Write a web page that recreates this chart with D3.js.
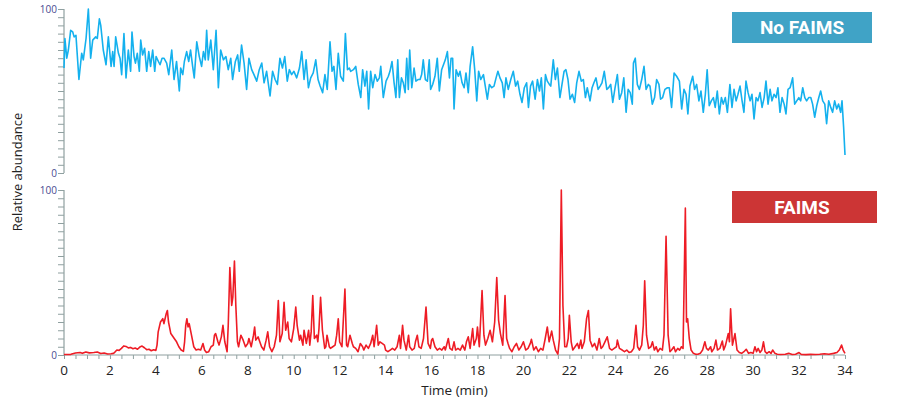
<!DOCTYPE html>
<html>
<head>
<meta charset="utf-8">
<script src="https://cdn.jsdelivr.net/npm/d3@7"></script>
<style>
  html, body { margin: 0; padding: 0; background: #fff; }
  svg { display: block; }
</style>
</head>
<body>
<svg id="chart" width="899" height="407"></svg>
<script>
// ---------- DATA ----------
const xTicks = [0, 2, 4, 6, 8, 10, 12, 14, 16, 18, 20, 22, 24, 26, 28, 30, 32, 34];
const yTickLabels = [0, 100];
const seriesNames = ["No FAIMS", "FAIMS"];

// No FAIMS trace: [time (min), relative abundance]
const noFaimsTime = [0.00,0.04,0.12,0.19,0.29,0.38,0.44,0.52,0.65,0.77,0.84,0.96,1.06,1.16,1.25,1.38,1.45,1.54,1.60,1.71,1.83,1.93,2.05,2.12,2.18,2.25,2.37,2.44,2.51,2.61,2.70,2.80,2.90,2.96,3.05,3.11,3.19,3.28,3.34,3.42,3.51,3.60,3.69,3.77,3.86,3.95,4.01,4.11,4.18,4.27,4.35,4.47,4.56,4.69,4.79,4.90,5.02,5.08,5.17,5.24,5.34,5.43,5.51,5.60,5.67,5.78,5.89,5.99,6.07,6.15,6.21,6.28,6.39,6.50,6.62,6.72,6.82,6.94,7.05,7.15,7.26,7.34,7.46,7.56,7.63,7.73,7.84,7.95,8.05,8.17,8.27,8.39,8.50,8.61,8.71,8.82,8.97,9.08,9.19,9.29,9.40,9.51,9.61,9.72,9.81,9.91,10.01,10.13,10.25,10.35,10.45,10.54,10.64,10.74,10.85,10.96,11.06,11.15,11.26,11.36,11.46,11.58,11.67,11.75,11.84,11.94,12.04,12.16,12.25,12.34,12.42,
12.48,12.60,12.70,12.81,12.92,13.00,13.10,13.18,13.26,13.35,13.44,13.54,13.64,13.73,13.79,13.90,14.02,14.12,14.19,14.28,14.37,14.45,14.53,14.60,14.69,14.77,14.85,14.92,14.99,15.05,15.14,15.24,15.32,15.41,15.50,15.57,15.64,15.73,15.82,15.90,15.96,16.05,16.15,16.25,16.34,16.44,16.52,16.60,16.69,16.78,16.85,16.92,16.98,17.07,17.17,17.24,17.33,17.42,17.50,17.60,17.68,17.79,17.88,17.97,18.05,18.14,18.26,18.34,18.43,18.52,18.62,18.72,18.81,18.89,18.98,19.08,19.16,19.24,19.34,19.45,19.56,19.66,19.75,19.85,19.94,20.04,20.14,20.22,20.31,20.40,20.51,20.61,20.70,20.78,20.87,20.96,21.04,21.13,21.19,21.30,21.39,21.48,21.59,21.68,21.77,21.85,21.94,22.03,22.13,22.23,22.32,22.42,22.52,22.61,22.70,22.78,22.90,22.99,23.07,23.16,23.25,23.34,23.42,23.52,23.63,23.71,23.80,23.89,23.99,24.09,24.18,24.28,24.37,24.47,24.56,24.65,24.74,24.79,24.87,24.96,25.05,
25.15,25.25,25.34,25.44,25.51,25.61,25.71,25.80,25.90,25.97,26.06,26.16,26.27,26.35,26.45,26.56,26.67,26.79,26.89,26.99,27.08,27.16,27.25,27.37,27.45,27.54,27.64,27.73,27.83,27.92,28.00,28.09,28.18,28.27,28.35,28.44,28.53,28.62,28.70,28.79,28.88,28.99,29.08,29.17,29.26,29.34,29.43,29.52,29.60,29.69,29.78,29.87,29.95,30.04,30.13,30.21,30.30,30.39,30.48,30.56,30.65,30.74,30.82,30.91,31.00,31.08,31.17,31.26,31.35,31.43,31.52,31.61,31.72,31.81,31.90,31.99,32.07,32.16,32.25,32.33,32.42,32.51,32.59,32.68,32.77,32.86,32.94,33.03,33.12,33.20,33.29,33.38,33.46,33.55,33.64,33.72,33.81,33.87,33.94,34.00];
const noFaimsValue = [64,82,70,75,87,86,83,84,57,73,69,82,100,70,81,83,82,94,90,75,66,83,65,74,65,83,73,70,60,85,58,75,62,86,71,67,73,62,81,72,76,62,74,65,75,62,71,68,66,70,70,67,60,75,57,68,50,64,60,68,74,68,75,65,58,80,71,65,74,69,87,69,81,63,87,52,75,69,71,63,70,57,68,72,62,78,67,51,70,63,60,56,63,67,55,62,47,62,57,54,70,64,71,56,63,60,62,58,64,74,57,69,52,58,61,69,57,53,49,60,51,80,62,65,51,73,59,56,85,63,64,
62,63,65,54,46,63,53,62,39,62,52,60,56,58,65,46,56,59,62,68,55,46,69,46,58,55,49,70,51,75,52,64,56,57,57,60,69,57,56,69,51,54,59,70,50,63,66,69,74,58,70,70,39,63,59,62,55,52,61,49,65,77,63,44,62,57,60,53,45,54,52,53,58,62,58,55,46,58,51,57,62,53,56,48,43,52,55,40,53,56,45,57,50,58,39,60,56,54,53,69,57,64,46,54,62,63,57,45,48,43,55,62,56,57,46,52,44,52,55,58,51,53,55,62,51,52,54,43,52,60,45,49,58,37,51,49,42,67,70,54,51,
57,65,51,54,53,42,46,57,54,45,46,51,52,52,40,61,59,56,39,51,48,36,53,59,51,54,44,50,37,48,63,41,44,46,40,50,36,46,42,46,37,54,40,51,44,48,53,44,37,56,49,44,48,33,46,44,49,40,46,56,42,51,44,48,46,52,37,46,42,36,51,52,58,42,44,46,44,52,46,44,46,46,42,34,41,46,50,44,42,30,44,40,37,44,39,42,37,44,28,11];

// FAIMS trace: [time (min), relative abundance]
const faimsTime = [0,0.3,0.5,0.7,0.8,0.95,1.1,1.3,1.45,1.6,1.75,1.9,2.05,2.15,2.2,2.3,2.4,2.5,2.6,2.7,2.8,2.9,3.0,3.1,3.2,3.3,3.4,3.5,3.6,3.7,3.8,3.9,4.0,4.05,4.1,4.2,4.3,4.35,4.45,4.5,4.55,4.65,4.8,4.9,5.0,5.1,5.2,5.25,5.3,5.35,5.4,5.45,5.55,5.65,5.75,5.85,5.95,6.05,6.12,6.2,6.3,6.4,6.5,6.55,6.6,6.7,6.75,6.85,6.92,7.0,7.1,7.15,7.22,7.3,7.35,7.42,7.48,7.55,7.6,7.7,7.8,7.9,8.0,8.05,8.15,8.25,8.3,8.35,8.45,8.5,8.6,8.7,8.8,8.87,8.95,9.05,9.15,9.25,9.33,9.4,9.5,9.58,9.65,9.74,9.8,9.9,10.0,10.09,10.15,10.25,10.3,10.4,10.45,10.55,10.65,10.7,10.76,10.83,10.9,11.0,11.05,11.1,11.17,11.25,11.35,11.4,11.45,11.55,11.6,11.7,11.8,11.87,11.94,12.0,12.1,12.23,12.3,12.35,12.45,12.55,12.6,12.7,12.8,12.9,13.0,13.05,13.15,13.25,13.35,13.44,13.5,13.61,13.68,13.75,13.85,13.95,14.0,14.1,14.2,14.3,14.4,14.5,14.6,14.65,14.74,14.8,14.9,15.0,15.05,15.15,15.25,15.3,15.38,15.45,15.55,15.65,15.76,15.85,15.95,16.0,16.05,16.15,16.25,16.35,16.45,16.55,16.6,16.73,16.8,16.9,16.98,17.05,17.15,17.25,17.35,17.45,17.52,17.6,17.68,17.79,17.85,17.95,18.0,18.08,18.2,18.28,18.35,18.45,18.55,18.65,18.75,18.84,18.92,19.0,19.1,19.2,19.27,19.33,19.4,19.5,19.6,19.7,19.8,19.9,20.0,20.1,20.2,20.3,20.35,20.45,20.55,20.65,20.75,20.85,20.95,21.04,21.12,21.23,21.3,21.4,21.5,21.57,21.65,21.72,21.8,21.88,21.95,22.0,22.08,22.15,22.25,22.35,22.42,22.5,22.55,22.65,22.75,22.83,22.9,23.0,23.1,23.2,23.3,23.38,23.45,23.55,23.65,23.75,23.85,23.95,24.05,24.09,24.18,24.3,24.4,24.5,24.6,24.7,24.8,24.9,24.97,25.05,25.15,25.22,25.28,25.36,25.45,25.55,25.62,25.7,25.78,25.85,25.95,26.05,26.12,26.21,26.3,26.38,26.45,26.55,26.62,26.72,26.8,26.88,26.95,27.05,27.1,27.15,27.22,27.3,27.4,27.5,27.6,27.7,27.8,27.9,27.97,28.05,28.15,28.2,28.3,28.38,28.45,28.55,28.66,28.72,28.8,28.92,28.97,29.02,29.1,29.21,29.3,29.4,29.5,29.6,29.7,29.8,29.9,30.0,30.08,30.15,30.22,30.3,30.38,30.45,30.52,30.6,30.7,30.78,30.85,30.95,31.05,31.2,31.4,31.55,31.7,31.85,32.0,32.1,32.3,32.5,32.7,32.9,33.1,33.3,33.5,33.65,33.75,33.85,33.92,34.0];
const faimsValue = [0.3,0.4,1.2,1.5,1.0,1.8,1.3,1.5,1.8,0.9,1.2,0.6,0.8,1.0,1.5,3,2.8,4,5.5,5.2,4.3,4.6,3.8,4.2,3.5,4.8,5.4,4.4,3.2,3.5,2.6,3.2,2.8,6,14,20,22,19,25,27,20,13,10,8,5,3,2.2,8,18,22,17,19,12,5,3,3.5,3,7,3,1.5,2,5,6,12,13,8,6,11,18,8,2,18,53,30,35,57,30,8,5,12,9,5,7,10,5,12,17,9,11,9,5,3,9,14,5,2,5,12,33,8,13,32,15,20,10,8,16,29,18,9,12,6,15,7,15,6,14,36,10,12,8,16,35,15,4,5,12,5,4,5,6,12,22,8,5,40,6,5,12,7,5,4,2,7,5,3,6,4,7,12,5,18,6,8,7,6,3,2,3,4,3,5,12,4,18,9,3,12,5,3,4,8,12,5,4,10,29,7,4,9,10,5,3,4,3,5,3,10,4,3,8,3,4,3,6,3,8,11,4,16,6,10,17,5,39,12,6,10,15,8,20,47,21,13,6,36,10,7,4,2,5,7,3,5,8,3,4,7,9.5,3,5,2,4,3,10,17,8,14.5,9,3,0.5,10,100,30,5,5,10,24,8,3,5,7,4,9,4,8,22,27,9,5,7,3,10,4,5,8,11,4,3,4,5,9,4,3,2,3,1.5,2,4,18,5,3,6,18,45,12,4,5,8,3,5,2,4,3,12,72,12,2,3,5,2,4,3,5,4,89,20,22,10,3,1,0.5,0.5,1,3,8,4,3,5,2,4,9,3,4,8.5,3,6,13,8,28,6,13,3,1.5,1,2,3.5,1,1.5,1,5,2,4,1.5,3,8,2,1,2,1,3,1,0.5,0.3,0.5,1,0.3,0.5,1.5,0.3,0.2,0.4,0.3,0.5,0.8,0.5,1,1.5,3,6,3,1];

// ---------- LAYOUT ----------
const svg = d3.select("#chart");
const xLeft = 64, xRight = 845;
const panels = [
  { name: seriesNames[0], top: 9, bottom: 173, time: noFaimsTime, value: noFaimsValue,
    color: "#14b1ee", boxColor: "#40a3c6", boxX: 732, boxY: 12, boxW: 140, boxH: 31, xAxis: false },
  { name: seriesNames[1], top: 190, bottom: 355, time: faimsTime, value: faimsValue,
    color: "#ee1c25", boxColor: "#cc3535", boxX: 732, boxY: 191, boxW: 145, boxH: 32, xAxis: true }
];

const x = d3.scaleLinear().domain([0, 34]).range([xLeft, xRight]);
const axisColor = "#8fa0a0";
const font = "'Open Sans', 'DejaVu Sans', sans-serif";

panels.forEach(p => {
  const y = d3.scaleLinear().domain([0, 100]).range([p.bottom, p.top]);
  const g = svg.append("g");

  // y axis with minor ticks every 5
  const yAxis = d3.axisLeft(y).tickValues(d3.range(0, 101, 5)).tickSize(6).tickFormat("");
  const ya = g.append("g").attr("transform", `translate(${xLeft},0)`).call(yAxis);
  ya.select(".domain").attr("stroke", axisColor).attr("stroke-width", 1.2).attr("d", `M0,${p.top}V${p.bottom}`);
  ya.selectAll(".tick line").attr("stroke", axisColor).attr("stroke-width", 1);

  // y labels 0 and 100
  g.selectAll(".ylab").data(yTickLabels).join("text")
    .attr("x", xLeft - 7).attr("y", d => y(d))
    .attr("dy", "0.35em").attr("text-anchor", "end")
    .attr("font-family", font).attr("font-size", 10)
    .attr("fill", "#4a4a90").text(d => d);

  if (p.xAxis) {
    const xAxis = d3.axisBottom(x).tickValues(d3.range(0, 34.01, 0.5)).tickSize(4).tickFormat("");
    const xa = g.append("g").attr("transform", `translate(0,${p.bottom})`).call(xAxis);
    xa.select(".domain").attr("stroke", axisColor).attr("stroke-width", 1.2).attr("d", `M${xLeft},0H${xRight}`);
    xa.selectAll(".tick line").attr("stroke", axisColor);
    g.selectAll(".xlab").data(xTicks).join("text")
      .attr("x", d => x(d)).attr("y", p.bottom + 15).attr("dy", "0.35em")
      .attr("text-anchor", "middle").attr("font-family", font).attr("font-size", 13.5)
      .attr("fill", "#222").text(d => d);
  }

  // trace
  const pts = p.time.map((t, i) => [t, p.value[i]]);
  const line = d3.line().x(d => x(d[0])).y(d => y(d[1]));
  g.append("path").datum(pts).attr("d", line)
    .attr("fill", "none").attr("stroke", p.color).attr("stroke-width", 1.6)
    .attr("stroke-linejoin", "round");

  // label box
  g.append("rect").attr("x", p.boxX).attr("y", p.boxY).attr("width", p.boxW).attr("height", p.boxH)
    .attr("fill", p.boxColor);
  g.append("text").attr("x", 802).attr("y", p.boxY + p.boxH / 2).attr("dy", "0.36em")
    .attr("text-anchor", "middle").attr("font-family", "Roboto, 'Open Sans', sans-serif")
    .attr("font-weight", "bold").attr("font-size", 19).attr("fill", "#fff").text(p.name);
});

// axis titles
svg.append("text").attr("x", (xLeft + xRight) / 2).attr("y", 390).attr("dy", "0.35em")
  .attr("text-anchor", "middle").attr("font-family", font).attr("font-size", 13.5)
  .attr("fill", "#222").text("Time (min)");
svg.append("text").attr("transform", "translate(17,172) rotate(-90)").attr("dy", "0.35em")
  .attr("text-anchor", "middle").attr("font-family", font).attr("font-size", 13)
  .attr("fill", "#222").text("Relative abundance");
</script>
</body>
</html>
